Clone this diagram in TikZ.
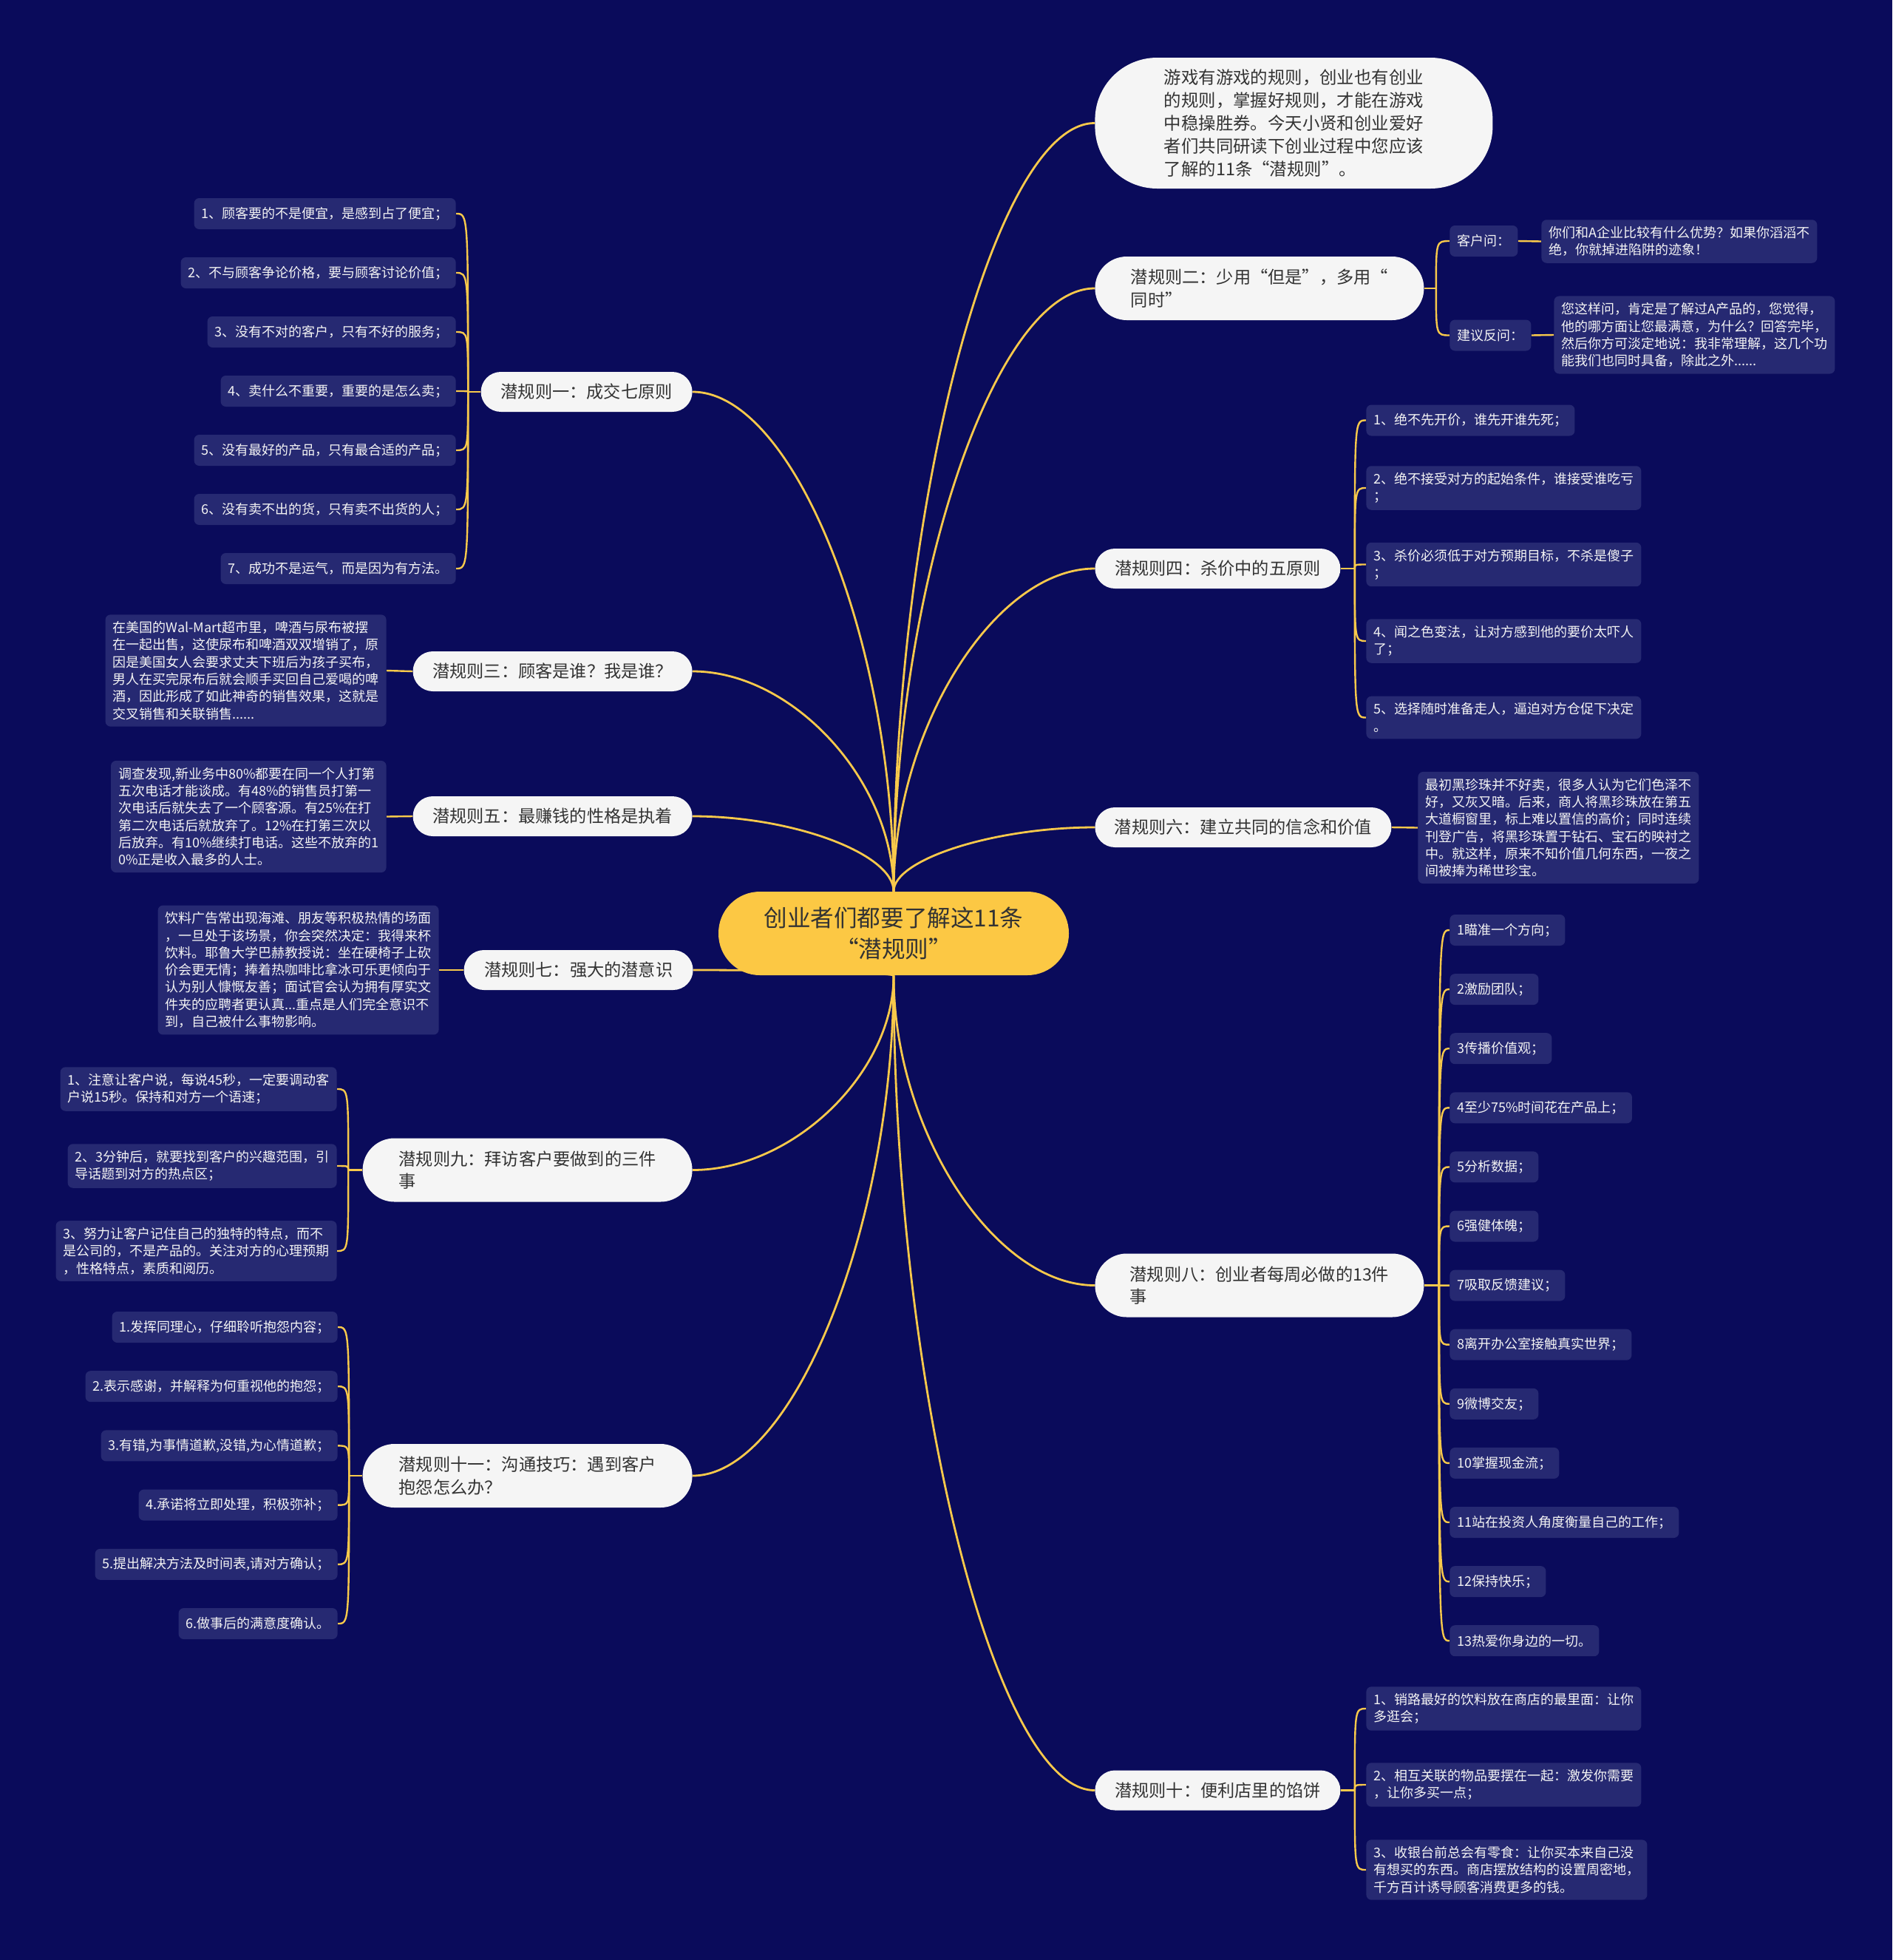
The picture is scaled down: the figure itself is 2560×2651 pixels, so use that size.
\documentclass[tikz,border=0pt]{standalone}
\usepackage{fontspec}
\setmainfont{Noto Sans CJK SC}
\usetikzlibrary{positioning,calc,backgrounds}
\definecolor{navybg}{HTML}{0A0B5B}
\definecolor{leafblue}{HTML}{262972}
\definecolor{pillwhite}{HTML}{F5F5F5}
\definecolor{hubyellow}{HTML}{FCC844}
\definecolor{linegold}{HTML}{F8C94B}
\definecolor{inkgrey}{HTML}{333333}
\definecolor{leaftext}{HTML}{F4F4F4}
\tikzset{
  hub/.style={rectangle, rounded corners=28pt, fill=hubyellow, text=inkgrey, align=center,
              minimum width=237pt, minimum height=56.5pt, font=\fontsize{15.8}{21}\selectfont},
  rule/.style={rectangle, rounded corners=13.5pt, fill=pillwhite, text=inkgrey, align=center,
               minimum height=27pt, inner xsep=6pt, font=\fontsize{11.6}{15.2}\selectfont},
  rulett/.style={rule, align=left, rounded corners=21.5pt, minimum height=43pt},
  intro/.style={rule, align=left, rounded corners=42pt, minimum width=269pt, minimum height=88.5pt,
                font=\fontsize{11.7}{15.5}\selectfont},
  leaf/.style={rectangle, rounded corners=3.5pt, fill=leafblue, text=leaftext, align=left,
               minimum height=21pt, inner xsep=5pt, inner ysep=4.5pt, font=\fontsize{9}{11.65}\selectfont},
  bough/.style={draw=linegold, line width=1.4pt},
  twig/.style={draw=linegold, line width=1.2pt},
}

\begin{document}
\begin{tikzpicture}[x=0.5pt,y=-0.5pt]
\useasboundingbox (0,0) rectangle (2560,2651);
% centre topic
\node[hub] (hub) at (1209,1262.5) {创业者们都要了解这11条\\“潜规则”};

% right side
\node[intro, anchor=west] (intro) at (1481,166.5) {游戏有游戏的规则，创业也有创业\\的规则，掌握好规则，才能在游戏\\中稳操胜券。今天小贤和创业爱好\\者们共同研读下创业过程中您应该\\了解的11条“潜规则”。};
\node[rulett, anchor=west, minimum width=222.5pt] (r2) at (1481,390) {潜规则二：少用“但是”，多用“\\同时”};
\node[rule, anchor=west, minimum width=166pt] (r4) at (1481,769) {潜规则四：杀价中的五原则};
\node[rule, anchor=west, minimum width=200.5pt] (r6) at (1481,1119) {潜规则六：建立共同的信念和价值};
\node[rulett, anchor=west, minimum width=222.5pt] (r8) at (1481,1738.5) {潜规则八：创业者每周必做的13件\\事};
\node[rule, anchor=west, minimum width=166pt] (r10) at (1481,2421.5) {潜规则十：便利店里的馅饼};

% left side
\node[rule, anchor=east, minimum width=143pt] (r1) at (937,530) {潜规则一：成交七原则};
\node[rule, anchor=east, minimum width=189pt] (r3) at (937,908) {潜规则三：顾客是谁？我是谁？};
\node[rule, anchor=east, minimum width=189pt] (r5) at (937,1104) {潜规则五：最赚钱的性格是执着};
\node[rule, anchor=east, minimum width=155pt] (r7) at (938,1312) {潜规则七：强大的潜意识};
\node[rulett, anchor=east, minimum width=223pt] (r9) at (937,1582.5) {潜规则九：拜访客户要做到的三件\\事};
\node[rulett, anchor=east, minimum width=223pt] (r11) at (937,1996) {潜规则十一：沟通技巧：遇到客户\\抱怨怎么办？};

% rule 2 leaves
\node[leaf, anchor=west] (q2a) at (1961,326) {客户问：};
\node[leaf, anchor=west] (q2b) at (2085,326.5) {你们和A企业比较有什么优势？如果你滔滔不\\绝，你就掉进陷阱的迹象！};
\node[leaf, anchor=west] (s2a) at (1961,453.5) {建议反问：};
\node[leaf, anchor=west] (s2b) at (2102,453) {您这样问，肯定是了解过A产品的，您觉得，\\他的哪方面让您最满意，为什么？回答完毕，\\然后你方可淡定地说：我非常理解，这几个功\\能我们也同时具备，除此之外......};

% rule 4 leaves
\foreach \y/\txt [count=\i] in {568.5/{1、绝不先开价，谁先开谁先死；},
    660/{2、绝不接受对方的起始条件，谁接受谁吃亏\\；},
    763.5/{3、杀价必须低于对方预期目标，不杀是傻子\\；},
    867/{4、闻之色变法，让对方感到他的要价太吓人\\了；},
    970.5/{5、选择随时准备走人，逼迫对方仓促下决定\\。}}
  \node[leaf, anchor=west] (d\i) at (1848,\y) {\txt};

% rule 6 leaf
\node[leaf, anchor=west] (f1) at (1918,1119.5) {最初黑珍珠并不好卖，很多人认为它们色泽不\\好，又灰又暗。后来，商人将黑珍珠放在第五\\大道橱窗里，标上难以置信的高价；同时连续\\刊登广告，将黑珍珠置于钻石、宝石的映衬之\\中。就这样，原来不知价值几何东西，一夜之\\间被捧为稀世珍宝。};

% rule 8 leaves
\foreach \txt [count=\i] in {{1瞄准一个方向；},{2激励团队；},{3传播价值观；},{4至少75\%时间花在产品上；},
    {5分析数据；},{6强健体魄；},{7吸取反馈建议；},{8离开办公室接触真实世界；},{9微博交友；},
    {10掌握现金流；},{11站在投资人角度衡量自己的工作；},{12保持快乐；},{13热爱你身边的一切。}}
  \node[leaf, anchor=west] (h\i) at (1961,{1258+80.1*(\i-1)}) {\txt};

% rule 10 leaves
\foreach \y/\txt [count=\i] in {2311/{1、销路最好的饮料放在商店的最里面：让你\\多逛会；},
    2414/{2、相互关联的物品要摆在一起：激发你需要\\，让你多买一点；},
    2529/{3、收银台前总会有零食：让你买本来自己没\\有想买的东西。商店摆放结构的设置周密地，\\千方百计诱导顾客消费更多的钱。}}
  \node[leaf, anchor=west] (t\i) at (1848,\y) {\txt};

% rule 1 leaves
\foreach \txt [count=\i] in {{1、顾客要的不是便宜，是感到占了便宜；},{2、不与顾客争论价格，要与顾客讨论价值；},
    {3、没有不对的客户，只有不好的服务；},{4、卖什么不重要，重要的是怎么卖；},
    {5、没有最好的产品，只有最合适的产品；},{6、没有卖不出的货，只有卖不出货的人；},
    {7、成功不是运气，而是因为有方法。}}
  \node[leaf, anchor=east] (a\i) at (617,{289+80*(\i-1)}) {\txt};

% rules 3, 5, 7 leaves
\node[leaf, anchor=east] (c1) at (523,907) {在美国的Wal-Mart超市里，啤酒与尿布被摆\\在一起出售，这使尿布和啤酒双双增销了，原\\因是美国女人会要求丈夫下班后为孩子买布，\\男人在买完尿布后就会顺手买回自己爱喝的啤\\酒，因此形成了如此神奇的销售效果，这就是\\交叉销售和关联销售......};
\node[leaf, anchor=east] (e1) at (523,1104.5) {调查发现,新业务中80\%都要在同一个人打第\\五次电话才能谈成。有48\%的销售员打第一\\次电话后就失去了一个顾客源。有25\%在打\\第二次电话后就放弃了。12\%在打第三次以\\后放弃。有10\%继续打电话。这些不放弃的1\\0\%正是收入最多的人士。};
\node[leaf, anchor=east] (g1) at (594,1312) {饮料广告常出现海滩、朋友等积极热情的场面\\，一旦处于该场景，你会突然决定：我得来杯\\饮料。耶鲁大学巴赫教授说：坐在硬椅子上砍\\价会更无情；捧着热咖啡比拿冰可乐更倾向于\\认为别人慷慨友善；面试官会认为拥有厚实文\\件夹的应聘者更认真...重点是人们完全意识不\\到，自己被什么事物影响。};

% rule 9 leaves
\foreach \y/\txt [count=\i] in {1473/{1、注意让客户说，每说45秒，一定要调动客\\户说15秒。保持和对方一个语速；},
    1577/{2、3分钟后，就要找到客户的兴趣范围，引\\导话题到对方的热点区；},
    1692/{3、努力让客户记住自己的独特的特点，而不\\是公司的，不是产品的。关注对方的心理预期\\，性格特点，素质和阅历。}}
  \node[leaf, anchor=east] (n\i) at (456,\y) {\txt};

% rule 11 leaves
\foreach \txt [count=\i] in {{1.发挥同理心，仔细聆听抱怨内容；},{2.表示感谢，并解释为何重视他的抱怨；},
    {3.有错,为事情道歉,没错,为心情道歉；},{4.承诺将立即处理，积极弥补；},
    {5.提出解决方法及时间表,请对方确认；},{6.做事后的满意度确认。}}
  \node[leaf, anchor=east] (m\i) at (457,{1795+80.2*(\i-1)}) {\txt};

\begin{scope}[on background layer]
\fill[navybg] (0,0) rectangle (2560,2651);
% main branches, controls half-way to the corner
\foreach \nd in {intro,r2,r4,r6}
  \draw[bough] (hub.north) .. controls ($(hub.north)!0.5!(hub.north |- \nd.west)$)
    and ($(\nd.west)!0.5!(hub.north |- \nd.west)$) .. (\nd.west);
\foreach \nd in {r8,r10}
  \draw[bough] (hub.south) .. controls ($(hub.south)!0.5!(hub.south |- \nd.west)$)
    and ($(\nd.west)!0.5!(hub.south |- \nd.west)$) .. (\nd.west);
\foreach \nd in {r1,r3,r5}
  \draw[bough] (hub.north) .. controls ($(hub.north)!0.5!(hub.north |- \nd.east)$)
    and ($(\nd.east)!0.5!(hub.north |- \nd.east)$) .. (\nd.east);
\foreach \nd in {r7,r9,r11}
  \draw[bough] (hub.south) .. controls ($(hub.south)!0.5!(hub.south |- \nd.east)$)
    and ($(\nd.east)!0.5!(hub.south |- \nd.east)$) .. (\nd.east);

% brackets to the leaves
\coordinate (k2) at ([xshift=8pt]r2.east);
\coordinate (k4) at ([xshift=9.5pt]r4.east);
\coordinate (k8) at ([xshift=10pt]r8.east);
\coordinate (k10) at ([xshift=9.5pt]r10.east);
\coordinate (k1) at ([xshift=-8.5pt]r1.west);
\coordinate (k9) at ([xshift=-9.5pt]r9.west);
\coordinate (k11) at ([xshift=-9pt]r11.west);
\draw[twig] (r2.east) -- (k2);
\foreach \nd in {q2a,s2a}
  \draw[twig] (k2) .. controls (k2 |- \nd.west) .. (\nd.west);
\draw[twig] (r4.east) -- (k4);
\foreach \i in {1,...,5} \draw[twig] (k4) .. controls (k4 |- d\i.west) .. (d\i.west);
\draw[twig] (r8.east) -- (k8);
\foreach \i in {1,...,13} \draw[twig] (k8) .. controls (k8 |- h\i.west) .. (h\i.west);
\draw[twig] (r10.east) -- (k10);
\foreach \i in {1,2,3} \draw[twig] (k10) .. controls (k10 |- t\i.west) .. (t\i.west);
\draw[twig] (r1.west) -- (k1);
\foreach \i in {1,...,7} \draw[twig] (k1) .. controls (k1 |- a\i.east) .. (a\i.east);
\draw[twig] (r9.west) -- (k9);
\foreach \i in {1,2,3} \draw[twig] (k9) .. controls (k9 |- n\i.east) .. (n\i.east);
\draw[twig] (r11.west) -- (k11);
\foreach \i in {1,...,6} \draw[twig] (k11) .. controls (k11 |- m\i.east) .. (m\i.east);
% straight links
\draw[twig] (q2a.east) -- (q2b.west);
\draw[twig] (s2a.east) -- (s2b.west);
\draw[twig] (r6.east) -- (f1.west);
\draw[twig] (r3.west) -- (c1.east);
\draw[twig] (r5.west) -- (e1.east);
\draw[twig] (r7.west) -- (g1.east);
\end{scope}
\end{tikzpicture}
\end{document}
